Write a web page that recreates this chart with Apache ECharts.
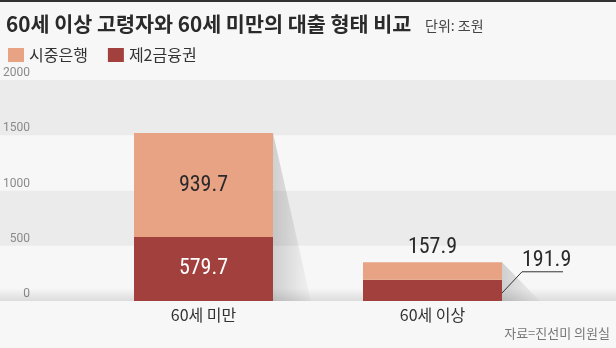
<!DOCTYPE html>
<html><head><meta charset="utf-8">
<script src="https://cdn.jsdelivr.net/npm/echarts@6/dist/echarts.min.js"></script>
<style>html,body{margin:0;padding:0;background:#f7f7f7}#c{width:616px;height:348px}</style>
</head><body><div id="c"></div>
<script>
const categories = ['60세 미만', '60세 이상'];
const seriesNames = ['시중은행', '제2금융권'];
const bankLoans = [939.7, 157.9];
const secondTierLoans = [579.7, 191.9];
const outsideLabel = [false, true];
const yMin = 0, yMax = 2000, yInterval = 500;

const LIGHT = '#e8a385', DARK = '#a1403c';
const KR = '"Noto Sans CJK KR", sans-serif';
const NUM = '"Liberation Sans Narrow", "Roboto Condensed", Roboto, "Noto Sans CJK KR", sans-serif';
const BAR_W = 139;

const totals = bankLoans.map((v, i) => v + secondTierLoans[i]);
const chart = echarts.init(document.getElementById('c'), null, {renderer: 'canvas'});

const option = {
  backgroundColor: '#f7f7f7',
  animation: false,
  title: [
    {text: '60세 이상 고령자와 60세 미만의 대출 형태 비교', left: 1, top: 9,
     textStyle: {fontFamily: KR, fontSize: 20.7, fontWeight: 'bold', color: '#2a2a2a'}},
    {text: '단위: 조원', left: 420, top: 14,
     textStyle: {fontFamily: KR, fontSize: 14, fontWeight: 'normal', color: '#444'}}
  ],
  legend: {
    data: seriesNames, left: 3, top: 42, itemWidth: 16, itemHeight: 14, itemGap: 20,
    icon: 'rect', textStyle: {fontFamily: KR, fontSize: 16, color: '#333'}
  },
  grid: [
    {left: 0, right: 0, top: 80, bottom: 47},
    {left: 89, right: 69, top: 80, bottom: 47}
  ],
  xAxis: [
    {gridIndex: 0, type: 'value', min: 0, max: 1, show: false},
    {gridIndex: 1, type: 'category', data: categories,
     axisLine: {show: false}, axisTick: {show: false},
     axisLabel: {fontFamily: KR, fontSize: 16, color: '#333', margin: 6}}
  ],
  yAxis: [
    {gridIndex: 0, type: 'value', min: yMin, max: yMax, interval: yInterval,
     axisLine: {show: false}, axisTick: {show: false}, splitLine: {show: false},
     splitArea: {show: true, areaStyle: {color: ['#f7f7f7', '#ebebeb']}},
     axisLabel: {inside: true, align: 'right', margin: 30, verticalAlign: 'bottom',
       formatter: v => String(v),
       fontFamily: 'Roboto, sans-serif', fontSize: 12, color: '#8a8a8a', padding: [0,0,1,0]}},
    {gridIndex: 1, type: 'value', min: yMin, max: yMax, interval: yInterval, show: false}
  ],
  series: [
    {
      type: 'custom', xAxisIndex: 0, yAxisIndex: 0, z: 1, silent: true,
      data: [[0, 0]],
      renderItem: function (params, api) {
        const cs = params.coordSys;
        const base = api.coord([0, 0])[1];
        return {type: 'rect', shape: {x: cs.x, y: base - 13, width: cs.width, height: 13},
          style: {fill: new echarts.graphic.LinearGradient(0, 0, 0, 1, [
            {offset: 0, color: 'rgba(0,0,0,0)'}, {offset: 1, color: 'rgba(0,0,0,0.11)'}])}};
      }
    },
    {
      name: seriesNames[1], type: 'bar', stack: 'a', xAxisIndex: 1, yAxisIndex: 1, z: 3,
      barWidth: BAR_W, itemStyle: {color: DARK},
      data: secondTierLoans.map((v, i) => outsideLabel[i]
        ? {value: v, label: {position: 'right', distance: 5, offset: [15, -30], color: '#2a2a2a'}}
        : v),
      label: {show: true, position: 'inside', fontFamily: NUM, fontSize: 22, color: '#fff'}
    },
    {
      name: seriesNames[0], type: 'bar', stack: 'a', xAxisIndex: 1, yAxisIndex: 1, z: 3,
      barWidth: BAR_W, itemStyle: {color: LIGHT},
      data: bankLoans.map((v, i) => outsideLabel[i]
        ? {value: v, label: {position: 'top', distance: 4}}
        : v),
      label: {show: true, position: 'inside', fontFamily: NUM, fontSize: 22, color: '#2a2a2a'}
    },
    {
      type: 'custom', xAxisIndex: 1, yAxisIndex: 1, z: 2, silent: true,
      data: totals.map((t, i) => [i, t, secondTierLoans[i]]),
      renderItem: function (params, api) {
        const i = api.value(0);
        const top = api.coord([i, api.value(1)]);
        const base = api.coord([i, 0]);
        const right = top[0] + BAR_W / 2;
        const children = [{
          type: 'polygon', z2: 1,
          shape: {points: [[right, top[1]], [right, base[1]], [right + 38, base[1]]]},
          style: {fill: new echarts.graphic.LinearGradient(0, 0, 1, 0, [
            {offset: 0, color: 'rgba(0,0,0,0.16)'}, {offset: 1, color: 'rgba(0,0,0,0.02)'}])}
        }];
        if (outsideLabel[i]) {
          const seg = api.coord([i, api.value(2)]);
          children.push({
            type: 'polyline', z2: 5,
            shape: {points: [[right, base[1] - 8], [right + 20, seg[1] - 8], [right + 61, seg[1] - 8]]},
            style: {stroke: '#333', lineWidth: 1, fill: null}
          });
        }
        return {type: 'group', children: children};
      }
    }
  ],
  graphic: [
    {type: 'rect', shape: {x: 0, y: 0, width: 616, height: 2}, style: {fill: '#333'}},
    {type: 'text', right: 6, top: 327, style: {text: '자료=진선미 의원실', font: '13px "Noto Sans CJK KR", sans-serif', fill: '#777'}}
  ]
};
chart.setOption(option);
</script></body></html>
